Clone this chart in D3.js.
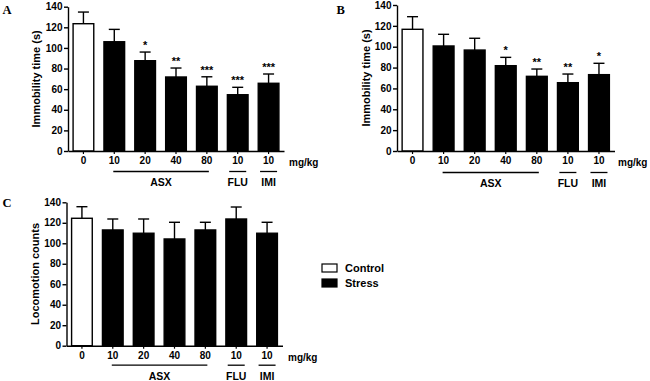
<!DOCTYPE html>
<html>
<head>
<meta charset="utf-8">
<script src="https://cdn.jsdelivr.net/npm/d3@7/dist/d3.min.js"></script>
<style>
html,body{margin:0;padding:0;background:#fff;}
svg{display:block;font-family:"Liberation Sans",Arial,sans-serif;}
</style>
</head>
<body>
<svg id="chart" width="650" height="381"></svg>
<script>
// ---------- data ----------
const categories = ["0", "10", "20", "40", "80", "10", "10"];
const barGroup = ["Control", "Stress", "Stress", "Stress", "Stress", "Stress", "Stress"];
const drugLabels = ["ASX", "FLU", "IMI"];
const drugFirst = [1, 5, 6];
const drugLast = [4, 5, 6];
const yTicks = [0, 20, 40, 60, 80, 100, 120, 140];
const legendLabels = ["Control", "Stress"];

const meanA = [123.5, 106, 87.6, 71.8, 62.8, 54.6, 65.7];
const semA  = [11.3, 12, 8.4, 8.7, 9.2, 7.2, 9];
const starsA = ["", "", "*", "**", "***", "***", "***"];

const meanB = [116.7, 100.7, 96.8, 81.8, 71.6, 65.5, 73.2];
const semB  = [12.1, 11.2, 11.3, 8, 7, 8.3, 10.9];
const starsB = ["", "", "", "*", "**", "**", "*"];

const meanC = [124.4, 113, 109.8, 104.2, 113, 123.7, 109.8];
const semC  = [11.3, 10.7, 13.9, 16.3, 7.5, 11.7, 10.7];
const starsC = ["", "", "", "", "", "", ""];

// ---------- layout ----------
const svg = d3.select("#chart");
const fill = {Control: "#fff", Stress: "#000"};

const panels = [
  {letter: "A", lx: 2.5, ly: 13.5, x0: 68, x1: 284, y0: 151, y1: 6.7, title: "Immobility time (s)", tx: 36,
   mean: meanA, sem: semA, stars: starsA, lineDy: 20.5, mgX: 289},
  {letter: "B", lx: 336.5, ly: 13.5, x0: 397, x1: 614.5, y0: 151, y1: 5, title: "Immobility time (s)", tx: 366,
   mean: meanB, sem: semB, stars: starsB, lineDy: 21.5, mgX: 618},
  {letter: "C", lx: 2.5, ly: 206.5, x0: 66.5, x1: 282.5, y0: 345.7, y1: 202.3, title: "Locomotion counts", tx: 35,
   mean: meanC, sem: semC, stars: starsC, lineDy: 19.5, mgX: 288}
];

panels.forEach(p => {
  const g = svg.append("g");
  const x = d3.scaleBand().domain(d3.range(categories.length)).range([p.x0, p.x1])
    .paddingInner(0.33).paddingOuter(0.165);
  const y = d3.scaleLinear().domain([0, 140]).range([p.y0, p.y1]);
  const cx = i => x(i) + x.bandwidth() / 2;

  // error bars (upper only)
  const eb = g.append("g").attr("stroke", "#000").attr("stroke-width", 1.4).attr("fill", "none");
  p.mean.forEach((m, i) => {
    eb.append("line").attr("x1", cx(i)).attr("x2", cx(i)).attr("y1", y(m)).attr("y2", y(m + p.sem[i]));
    eb.append("line").attr("x1", cx(i) - 5.5).attr("x2", cx(i) + 5.5).attr("y1", y(m + p.sem[i])).attr("y2", y(m + p.sem[i]));
  });

  // bars
  g.append("g").selectAll("rect").data(p.mean).join("rect")
    .attr("x", (d, i) => x(i))
    .attr("y", d => y(d))
    .attr("width", x.bandwidth())
    .attr("height", d => y(0) - y(d))
    .attr("fill", (d, i) => fill[barGroup[i]])
    .attr("stroke", "#000").attr("stroke-width", 1.4);

  // stars
  g.append("g").selectAll("text").data(p.mean).join("text")
    .attr("x", (d, i) => cx(i))
    .attr("y", (d, i) => y(d + p.sem[i]) - 3)
    .attr("text-anchor", "middle")
    .attr("font-size", 11).attr("font-weight", "bold")
    .text((d, i) => p.stars[i]);

  // y axis
  const ya = g.append("g").attr("transform", `translate(${p.x0},0)`)
    .call(d3.axisLeft(y).tickValues(yTicks).tickSize(4).tickPadding(1.5).tickSizeOuter(0));
  ya.select(".domain").attr("stroke-width", 1.4);
  ya.selectAll(".tick line").attr("stroke-width", 1.4);
  ya.selectAll("text").attr("font-size", 10).attr("font-weight", "bold")
    .attr("font-family", "'Liberation Sans',Arial,sans-serif").attr("fill", "#000");

  // x axis
  const xa = g.append("g").attr("transform", `translate(0,${p.y0})`)
    .call(d3.axisBottom(x).tickSize(3).tickPadding(3).tickSizeOuter(0).tickFormat(i => categories[i]));
  xa.select(".domain").attr("stroke-width", 1.4);
  xa.selectAll(".tick line").attr("stroke-width", 1.2);
  xa.selectAll("text").attr("font-size", 10).attr("font-weight", "bold")
    .attr("font-family", "'Liberation Sans',Arial,sans-serif").attr("fill", "#000");

  // unit label
  g.append("text").attr("x", p.mgX).attr("y", p.y0 + 15)
    .attr("font-size", 10).attr("font-weight", "bold").text("mg/kg");

  // drug group lines and labels
  drugLabels.forEach((lab, k) => {
    const a = drugFirst[k], b = drugLast[k];
    let xa1, xa2;
    if (a === b) { xa1 = cx(a) - 8.5; xa2 = cx(a) + 8.5; }
    else { xa1 = cx(a) - 1; xa2 = cx(b) + 2; }
    g.append("line").attr("x1", xa1).attr("x2", xa2)
      .attr("y1", p.y0 + p.lineDy).attr("y2", p.y0 + p.lineDy)
      .attr("stroke", "#000").attr("stroke-width", 1.3);
    g.append("text").attr("x", (xa1 + xa2) / 2).attr("y", p.y0 + p.lineDy + 14.5)
      .attr("text-anchor", "middle").attr("font-size", 10.5).attr("font-weight", "bold").text(lab);
  });

  // y title
  g.append("text")
    .attr("transform", `translate(${p.tx + 4},${(p.y0 + p.y1) / 2}) rotate(-90)`)
    .attr("text-anchor", "middle").attr("font-size", 11).attr("font-weight", "bold").text(p.title);

  // panel letter
  g.append("text").attr("x", p.lx).attr("y", p.ly)
    .attr("font-family", "'Liberation Serif','Times New Roman',serif")
    .attr("font-size", 12.5).attr("font-weight", "bold").text(p.letter);
});

// legend
const leg = svg.append("g").attr("transform", "translate(322,264)");
legendLabels.forEach((lab, i) => {
  leg.append("rect").attr("x", 0).attr("y", i * 15).attr("width", 15).attr("height", 8)
    .attr("fill", fill[lab]).attr("stroke", "#000").attr("stroke-width", 1.2);
  leg.append("text").attr("x", 23).attr("y", i * 15 + 8).attr("font-size", 11)
    .attr("font-weight", "bold").text(lab);
});
</script>
</body>
</html>
